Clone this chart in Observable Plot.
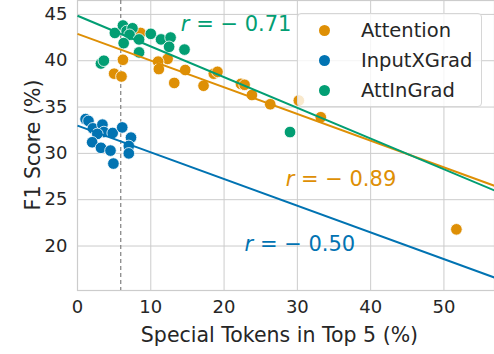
<!DOCTYPE html>
<html>
<head>
<meta charset="utf-8">
<script src="https://cdn.jsdelivr.net/npm/d3@7"></script>
<script src="https://cdn.jsdelivr.net/npm/@observablehq/plot@0.6"></script>
<style>
  html, body { margin: 0; padding: 0; background: #fff; }
  #wrap { position: relative; width: 494px; height: 354px; font-family: "DejaVu Sans", sans-serif; }
  #legend { position: absolute; left: 297px; top: 13px; width: 185px; height: 94px;
    background: rgba(255,255,255,0.8); border: 1px solid #d6d6d6; border-radius: 4px; box-sizing: border-box; }
  .lg-row { position: absolute; left: 0; height: 30px; display: flex; align-items: center; }
  .lg-dot { width: 11px; height: 11px; border-radius: 50%; margin-left: 21px; }
  .lg-txt { margin-left: 31px; font-size: 19.5px; color: #262626; }
</style>
</head>
<body>
<div id="wrap"><div id="legend"></div></div>
<script>
// ---- data ----
const categories = ["Attention", "InputXGrad", "AttInGrad"];
const palette = ["#de8f05", "#0173b2", "#029e73"];

const attentionX = [51.7, 33.2, 30.2, 26.3, 23.8, 22.3, 22.8, 18.6, 19.1, 17.2, 14.7, 13.2, 12.3, 11.0, 11.1, 8.6, 6.2, 5.0, 6.0];
const attentionY = [21.8, 33.9, 35.7, 35.3, 36.3, 37.5, 37.4, 38.6, 38.8, 37.3, 39.0, 37.6, 40.2, 39.9, 39.1, 43.0, 40.1, 38.6, 38.3];

const inputXGradX = [1.1, 1.5, 2.1, 3.4, 3.6, 2.7, 2.0, 3.2, 4.8, 4.5, 6.1, 7.3, 7.0, 7.0, 4.9];
const inputXGradY = [33.7, 33.5, 32.7, 33.1, 32.3, 32.1, 31.2, 30.6, 32.2, 30.3, 32.8, 31.7, 30.8, 30.0, 28.9];

const attInGradX = [3.2, 3.6, 5.1, 6.2, 6.7, 7.5, 7.1, 6.3, 8.4, 8.4, 10.0, 11.4, 12.7, 12.5, 14.6, 29.0];
const attInGradY = [39.7, 40.0, 43.0, 43.8, 43.2, 43.5, 42.8, 41.9, 42.3, 40.9, 42.9, 42.3, 42.5, 41.5, 41.2, 32.3];

// fitted regression lines (end points)
const fitX0 = [0, 0, 0];
const fitY0 = [42.9, 33.0, 44.85];
const fitX1 = [56.9, 56.9, 56.9];
const fitY1 = [26.5, 16.6, 26.0];

// correlation annotations
const rLabels = ["r = − 0.89", "r = − 0.50", "r = − 0.71"];
const rX = [28.4, 22.8, 14.1];
const rY = [27.2, 20.2, 43.9];

const threshold = [5.9];
const xTicks = [0, 10, 20, 30, 40, 50];
const yTicks = [20, 25, 30, 35, 40, 45];
const xLabel = "Special Tokens in Top 5 (%)";
const yLabel = "F1 Score (%)";

// ---- build tables ----
const points = [];
[[attentionX, attentionY], [inputXGradX, inputXGradY], [attInGradX, attInGradY]].forEach(([xs, ys], i) => {
  xs.forEach((x, j) => points.push({method: categories[i], x, y: ys[j]}));
});
const fits = categories.map((m, i) => ({method: m, x1: fitX0[i], y1: fitY0[i], x2: fitX1[i], y2: fitY1[i]}));
const notes = categories.map((m, i) => ({method: m, text: rLabels[i], x: rX[i], y: rY[i]}));

const chart = Plot.plot({
  width: 494,
  height: 354,
  marginLeft: 77,
  marginRight: 0,
  marginTop: 0,
  marginBottom: 64,
  style: {fontFamily: "DejaVu Sans, sans-serif", fontSize: "18px", color: "#262626", background: "#fff"},
  x: {domain: [0, 56.9]},
  y: {domain: [15.2, 46.5]},
  color: {domain: categories, range: palette},
  marks: [
    Plot.gridX(xTicks, {stroke: "#cccccc", strokeOpacity: 1, strokeWidth: 1}),
    Plot.gridY(yTicks, {stroke: "#cccccc", strokeOpacity: 1, strokeWidth: 1}),
    Plot.frame({stroke: "#cccccc", strokeWidth: 1.2}),
    Plot.ruleX(threshold, {stroke: "#808080", strokeWidth: 1.2, strokeDasharray: "4,3"}),
    Plot.dot(points, {x: "x", y: "y", fill: "method", r: 5.8, stroke: "white", strokeWidth: 0.8}),
    Plot.link(fits, {x1: "x1", y1: "y1", x2: "x2", y2: "y2", stroke: "method", strokeWidth: 2}),
    Plot.text(notes, {x: "x", y: "y", text: "text", fill: "method", textAnchor: "start", fontSize: 21, className: "rnote"}),
    Plot.axisX(xTicks, {tickSize: 0, tickPadding: 10, fontSize: 18, label: null, fill: "#262626"}),
    Plot.axisY(yTicks, {tickSize: 0, tickPadding: 10, fontSize: 18, label: null, fill: "#262626"})
  ]
});

document.getElementById("wrap").prepend(chart);

const svg = d3.select(chart);
const xr = chart.scale("x").range;
const yr = chart.scale("y").range;

// axis titles
svg.append("text")
  .attr("x", (xr[0] + xr[1]) / 2 - 6)
  .attr("y", yr[0] + 52)
  .attr("text-anchor", "middle")
  .attr("font-size", 20.5)
  .attr("fill", "#262626")
  .text(xLabel);
svg.append("text")
  .attr("transform", `translate(${xr[0] - 37},${(yr[0] + yr[1]) / 2}) rotate(-90)`)
  .attr("text-anchor", "middle")
  .attr("font-size", 20.5)
  .attr("fill", "#262626")
  .text(yLabel);

// italic "r" in the annotations
svg.selectAll("g.rnote text").each(function() {
  const t = d3.select(this);
  const s = t.text();
  t.text(null);
  t.append("tspan").attr("font-style", "italic").text(s.slice(0, 1));
  t.append("tspan").text(s.slice(1));
});

// legend
const legend = d3.select("#legend");
categories.forEach((c, i) => {
  const row = legend.append("div").attr("class", "lg-row").style("top", (1 + i * 30) + "px");
  row.append("div").attr("class", "lg-dot").style("background", palette[i]);
  row.append("div").attr("class", "lg-txt").text(c);
});
</script>
</body>
</html>
